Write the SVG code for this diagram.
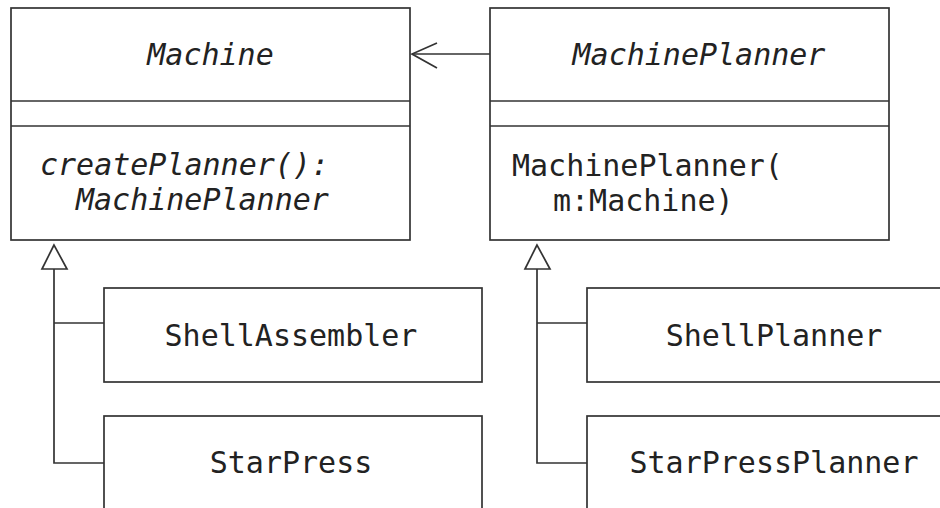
<svg xmlns="http://www.w3.org/2000/svg" width="940" height="508" viewBox="0 0 940 508">
<style>
.box{fill:#fff;stroke:#333;stroke-width:1.7}
.ln{fill:none;stroke:#333;stroke-width:1.7}
.t{font-family:"DejaVu Sans Mono","Liberation Mono",monospace;font-size:30px;fill:#222}
.i{font-style:italic}
</style>
<rect width="940" height="508" fill="#fff"/>
<g id="Machine">
<rect class="box" x="11" y="8" width="399" height="232"/>
<line class="ln" x1="11" y1="101" x2="410" y2="101"/>
<line class="ln" x1="11" y1="126" x2="410" y2="126"/>
<text class="t i" x="210.5" y="65" text-anchor="middle">Machine</text>
<text class="t i" x="40" y="175">createPlanner():</text>
<text class="t i" x="76" y="210">MachinePlanner</text>
</g>
<g id="MachinePlanner">
<rect class="box" x="490" y="8" width="399" height="232"/>
<line class="ln" x1="490" y1="101" x2="889" y2="101"/>
<line class="ln" x1="490" y1="126" x2="889" y2="126"/>
<text class="t i" x="699" y="65" text-anchor="middle">MachinePlanner</text>
<text class="t" x="512" y="176">MachinePlanner(</text>
<text class="t" x="553" y="211">m:Machine)</text>
</g>
<g id="ShellAssembler">
<rect class="box" x="104" y="288" width="378" height="94"/>
<text class="t" x="291" y="346" text-anchor="middle">ShellAssembler</text>
</g>
<g id="StarPress">
<rect class="box" x="104" y="416" width="378" height="120"/>
<text class="t" x="291" y="473" text-anchor="middle">StarPress</text>
</g>
<g id="ShellPlanner">
<rect class="box" x="587" y="288" width="380" height="94"/>
<text class="t" x="774" y="346" text-anchor="middle">ShellPlanner</text>
</g>
<g id="StarPressPlanner">
<rect class="box" x="587" y="416" width="380" height="120"/>
<text class="t" x="774" y="473" text-anchor="middle">StarPressPlanner</text>
</g>
<g id="connectors">
<line class="ln" x1="490" y1="54" x2="412" y2="54"/>
<polyline class="ln" points="437,43 412,54 437,68"/>
<polygon class="box" points="54,245 42,269 67,269"/>
<polyline class="ln" points="54,269 54,463 104,463"/>
<line class="ln" x1="54" y1="323" x2="104" y2="323"/>
<polygon class="box" points="537,245 525,269 550,269"/>
<polyline class="ln" points="537,269 537,463 587,463"/>
<line class="ln" x1="537" y1="323" x2="587" y2="323"/>
</g>
</svg>
